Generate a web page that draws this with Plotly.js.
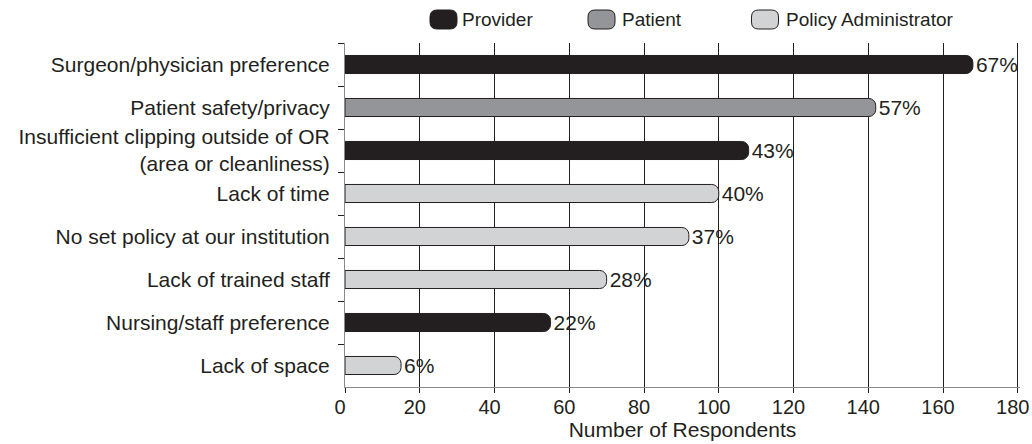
<!DOCTYPE html>
<html>
<head>
<meta charset="utf-8">
<script src="https://cdn.plot.ly/plotly-3.0.1.min.js"></script>
<style>html,body{margin:0;padding:0;background:#fff;}</style>
</head>
<body>
<div id="chart" style="width:1032px;height:444px;"></div>
<script>
// ---- data ----
const categories = [
  "Surgeon/physician preference",
  "Patient safety/privacy",
  "Insufficient clipping outside of OR<br>(area or cleanliness)",
  "Lack of time",
  "No set policy at our institution",
  "Lack of trained staff",
  "Nursing/staff preference",
  "Lack of space"
];
const respondents = [168, 142, 108, 100, 92, 70, 55, 15];
const percents = ["67%", "57%", "43%", "40%", "37%", "28%", "22%", "6%"];
const groups = ["Provider", "Patient", "Provider", "Policy Administrator",
                "Policy Administrator", "Policy Administrator", "Provider", "Policy Administrator"];
const groupNames = ["Provider", "Patient", "Policy Administrator"];
const xTicks = [0, 20, 40, 60, 80, 100, 120, 140, 160, 180];

// ---- style ----
const ink = "#231f20";
const groupColors = {"Provider": "#231f20", "Patient": "#939598", "Policy Administrator": "#d1d3d4"};
const family = "Liberation Sans, Arial, sans-serif";
const labelFont = {family: family, size: 21, color: ink};
const tickFont = {family: family, size: 20, color: ink};
const legendFont = {family: family, size: 19, color: ink};

const W = 1032, H = 444;
const M = {l: 345, r: 12, t: 43, b: 57};
const pw = W - M.l - M.r, ph = H - M.t - M.b;

const traces = groupNames.map(g => {
  const idx = categories.map((c, i) => i).filter(i => groups[i] === g);
  return {
    type: "bar",
    orientation: "h",
    name: g,
    y: idx.map(i => categories[i]),
    x: idx.map(i => respondents[i]),
    text: idx.map(i => percents[i]),
    textposition: "outside",
    constraintext: "none",
    textfont: labelFont,
    cliponaxis: false,
    marker: {color: groupColors[g], line: {color: ink, width: 1}, cornerradius: 7},
    hoverinfo: "skip",
    showlegend: false
  };
});

// custom legend (pill symbols + labels)
const legendSymbolX = [443.5, 601.5, 765];
const legendTextX = [460, 620, 784];
const legendY = 19.5;
const px2x = p => (p - M.l) / pw;
const py2y = p => (H - M.b - p) / ph;
const pill = "M -6.5,-9.5 L 6.5,-9.5 Q 13.5,-9.5 13.5,-2.5 L 13.5,2.5 Q 13.5,9.5 6.5,9.5 L -6.5,9.5 Q -13.5,9.5 -13.5,2.5 L -13.5,-2.5 Q -13.5,-9.5 -6.5,-9.5 Z";
const shapes = groupNames.map((g, k) => ({
  type: "path", xref: "paper", yref: "paper",
  xsizemode: "pixel", ysizemode: "pixel",
  xanchor: px2x(legendSymbolX[k]), yanchor: py2y(legendY),
  path: pill,
  fillcolor: groupColors[g], line: {color: ink, width: 1}
}));
const annotations = groupNames.map((g, k) => ({
  xref: "paper", yref: "paper",
  x: px2x(legendTextX[k]), y: py2y(legendY),
  xanchor: "left", yanchor: "middle",
  text: g, showarrow: false, font: legendFont
}));

const layout = {
  width: W, height: H,
  margin: M,
  paper_bgcolor: "#fff", plot_bgcolor: "#fff",
  font: labelFont,
  barmode: "overlay",
  bargap: 0.58,
  showlegend: false,
  xaxis: {
    range: [0, 180.6],
    tickvals: xTicks,
    ticktext: xTicks.map(String),
    ticklabeloverflow: "allow",
    ticklabelshift: -5,
    showgrid: true, gridcolor: ink, gridwidth: 1,
    zeroline: false,
    showline: true, linecolor: "#8a8a8a", linewidth: 1,
    ticks: "outside", ticklen: 5, tickcolor: ink, tickwidth: 1,
    ticklabelstandoff: -3,
    tickfont: tickFont,
    title: {text: "Number of Respondents", font: labelFont, standoff: 1},
    fixedrange: true
  },
  yaxis: {
    type: "category",
    categoryorder: "array", categoryarray: categories,
    range: [categories.length - 0.5, -0.5],
    showgrid: false, zeroline: false,
    showline: true, linecolor: "#8a8a8a", linewidth: 1,
    ticks: "outside", tickson: "boundaries", ticklen: 6, tickcolor: ink, tickwidth: 1,
    ticklabelstandoff: 10,
    tickfont: labelFont,
    fixedrange: true
  },
  shapes: shapes,
  annotations: annotations
};

Plotly.newPlot("chart", traces, layout, {staticPlot: true, displayModeBar: false});
</script>
</body>
</html>
